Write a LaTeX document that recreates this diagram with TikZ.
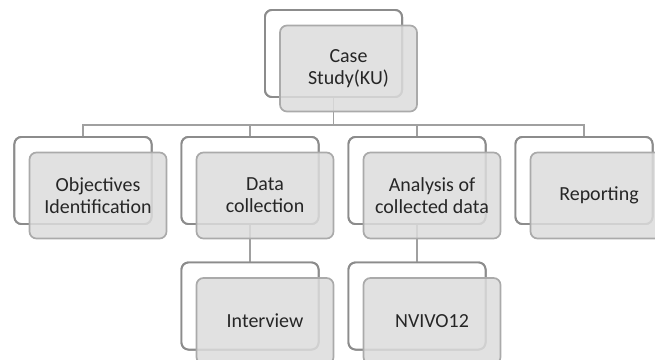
\documentclass[tikz,border=0pt]{standalone}
\usepackage{fontspec}
\setmainfont{Carlito}
\usepackage{xcolor}
\usetikzlibrary{positioning, calc, math}
\definecolor{framegray}{RGB}{140, 140, 140}
\definecolor{cardgray}{RGB}{220, 220, 220}
\definecolor{cardline}{RGB}{170, 170, 170}
\definecolor{linkgray}{RGB}{160, 160, 160}
\definecolor{textgray}{RGB}{38, 38, 38}

\tikzset{
  frame/.style={draw=framegray, fill=white, line width=1.4pt, rounded corners=5pt,
    minimum width=3.425cm, minimum height=2.175cm},
  card/.style={draw=cardline, fill=cardgray, fill opacity=0.85, text opacity=1,
    line width=1.2pt, rounded corners=5pt, minimum width=3.425cm, minimum height=2.15cm,
    text=textgray, align=center, font=\fontsize{14.2}{15.8}\selectfont,
    on grid, below right=0.375cm and 0.375cm of #1},
  link/.style={draw=linkgray, line width=1.1pt}
}

\begin{document}
\begin{tikzpicture}[x=0.025cm, y=-0.025cm]
\tikzmath{
\D=167;
}
\useasboundingbox (0,0) rectangle (655,360);

% back frames
\node[frame] (caseback) at (333.5,53.5) {};
\node[frame] (objback) at (83,180.5) {};
\node[frame] (databack) at (83+\D,180.5) {};
\node[frame] (anaback) at (83+2*\D,180.5) {};
\node[frame] (repback) at (83+3*\D,180.5) {};
\node[frame] (intback) at (83+\D,306) {};
\node[frame] (nvback) at (83+2*\D,306) {};

% connectors
\coordinate (bus) at ($(caseback.south)+(0,27)$);
\foreach \n in {objback, databack, anaback, repback}
  \draw[link] (caseback.south) -- (bus) -| (\n.north);
\draw[link] (databack.south) -- (intback.north);
\draw[link] (anaback.south) -- (nvback.north);

% redraw frames over the connectors
\foreach \n in {caseback, objback, databack, anaback, repback, intback, nvback}
  \node[frame] at (\n) {};

% front cards
\node[card=caseback] (case) {Case\\Study(KU)};
\node[card=objback] (obj) {Objectives\\Identification};
\node[card=databack] (data) {Data\\collection};
\node[card=anaback] (ana) {Analysis of\\collected data};
\node[card=repback] (rep) {Reporting};
\node[card=intback] (int) {Interview};
\node[card=nvback] (nv) {NVIVO12};
\end{tikzpicture}
\end{document}
